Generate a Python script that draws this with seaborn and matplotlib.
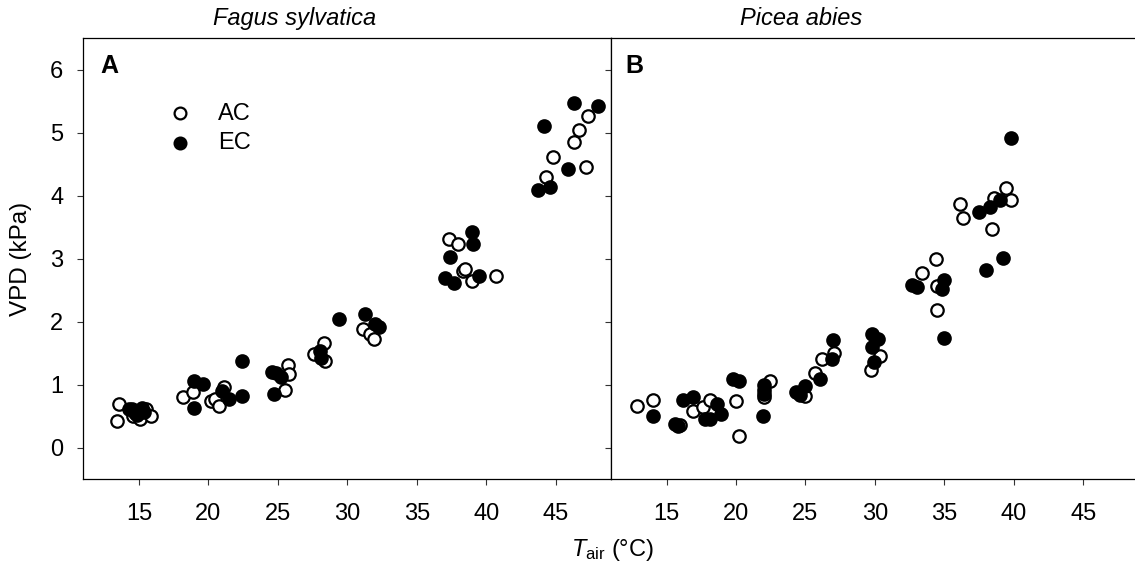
import matplotlib

matplotlib.use("Agg")
import matplotlib.pyplot as plt
import pandas as pd
import seaborn as sns

# Fagus sylvatica (panel A)
fagus_ac_t = [13.4, 13.6, 14.6, 15.1, 15.5, 15.9, 18.2, 18.9, 20.2, 20.5, 20.8, 21.1,
              25.5, 25.7, 25.8, 27.6, 28.35, 28.4, 31.1, 31.6, 31.9,
              37.3, 38.0, 38.3, 38.5, 39.0, 40.7, 44.3, 44.8, 46.3, 46.7, 47.2, 47.3]
fagus_ac_vpd = [0.42, 0.70, 0.50, 0.45, 0.61, 0.51, 0.80, 0.88, 0.74, 0.78, 0.66, 0.96,
                0.92, 1.32, 1.17, 1.49, 1.67, 1.37, 1.89, 1.81, 1.73,
                3.31, 3.23, 2.81, 2.84, 2.65, 2.72, 4.30, 4.61, 4.86, 5.05, 4.45, 5.26]
fagus_ec_t = [14.3, 14.5, 14.7, 14.9, 15.2, 15.4, 19.0, 19.0, 19.6, 21.0, 21.5, 22.45, 22.45,
              24.6, 24.9, 25.2, 24.7, 28.0, 28.1, 29.4, 31.3, 32.0, 32.25,
              37.4, 38.95, 39.05, 37.0, 37.7, 39.5, 44.15, 46.3, 48.05, 45.9, 43.7, 44.6]
fagus_ec_vpd = [0.61, 0.62, 0.55, 0.52, 0.63, 0.57, 0.63, 1.06, 1.01, 0.90, 0.77, 1.37, 0.83,
                1.21, 1.19, 1.13, 0.86, 1.53, 1.42, 2.04, 2.12, 1.97, 1.92,
                3.03, 3.43, 3.23, 2.70, 2.61, 2.73, 5.11, 5.48, 5.42, 4.43, 4.09, 4.14]

# Picea abies (panel B)
picea_ac_t = [12.9, 14.0, 16.0, 16.9, 17.6, 18.1, 20.0, 20.2, 22.45, 22.0, 22.0, 25.0,
              25.7, 26.2, 27.05, 29.7, 30.35, 33.4, 34.4, 34.5, 34.45,
              36.1, 36.3, 38.6, 38.4, 39.4, 39.8]
picea_ac_vpd = [0.67, 0.76, 0.36, 0.58, 0.65, 0.76, 0.74, 0.19, 1.06, 0.91, 0.81, 0.82,
                1.19, 1.41, 1.50, 1.24, 1.45, 2.78, 2.99, 2.57, 2.18,
                3.87, 3.65, 3.97, 3.47, 4.12, 3.93]
picea_ec_t = [14.0, 15.6, 15.8, 16.15, 16.9, 17.8, 18.1, 18.6, 18.9, 19.8, 20.2, 22.0, 22.0,
              21.97, 24.3, 24.6, 25.0, 26.05, 26.9, 27.0, 29.8, 30.2, 29.8, 29.95,
              32.7, 33.0, 35.0, 34.8, 35.0, 37.5, 38.25, 39.0, 39.2, 38.0, 39.8]
picea_ec_vpd = [0.51, 0.38, 0.35, 0.76, 0.81, 0.46, 0.45, 0.70, 0.54, 1.09, 1.06, 0.99, 0.86,
                0.51, 0.88, 0.84, 0.98, 1.09, 1.41, 1.71, 1.80, 1.73, 1.60, 1.36,
                2.58, 2.55, 2.66, 2.52, 1.75, 3.74, 3.82, 3.93, 3.01, 2.82, 4.91]

x_ticks = [15, 20, 25, 30, 35, 40, 45]
y_ticks = [0, 1, 2, 3, 4, 5, 6]
species = ["Fagus sylvatica", "Picea abies"]
panel_labels = ["A", "B"]

sns.set_style("ticks")
plt.rcParams["font.family"] = ["Liberation Sans", "DejaVu Sans"]
plt.rcParams["mathtext.fontset"] = "custom"
plt.rcParams["mathtext.rm"] = "Liberation Sans"
plt.rcParams["mathtext.it"] = "Liberation Sans:italic"
plt.rcParams["text.color"] = "black"
plt.rcParams["axes.labelcolor"] = "black"
plt.rcParams["xtick.labelcolor"] = "black"
plt.rcParams["ytick.labelcolor"] = "black"

FS = 17

fig = plt.figure(figsize=(11.35, 5.71), dpi=100)
ax_a = fig.add_axes([0.0734, 0.1606, 0.4652, 0.7723])
ax_b = fig.add_axes([0.5383, 0.1606, 0.4652, 0.7723])

panels = [
    (ax_a, fagus_ac_t, fagus_ac_vpd, fagus_ec_t, fagus_ec_vpd),
    (ax_b, picea_ac_t, picea_ac_vpd, picea_ec_t, picea_ec_vpd),
]

for i, (ax, ac_t, ac_v, ec_t, ec_v) in enumerate(panels):
    ac = pd.DataFrame({"T": ac_t, "VPD": ac_v})
    ec = pd.DataFrame({"T": ec_t, "VPD": ec_v})
    sns.scatterplot(data=ac, x="T", y="VPD", color="white", edgecolor="black",
                    linewidth=1.6, s=80, label="AC", ax=ax, zorder=3)
    sns.scatterplot(data=ec, x="T", y="VPD", color="black", edgecolor="black",
                    linewidth=1.6, s=80, label="EC", ax=ax, zorder=3)
    ax.set_xlim(11, 49)
    ax.set_ylim(-0.5, 6.5)
    ax.set_xticks(x_ticks)
    ax.set_yticks(y_ticks)
    ax.tick_params(direction="out", length=4.3, width=0.8, color="#333333",
                   labelsize=FS, pad=10)
    ax.tick_params(axis="x", pad=13)
    for side in ["left", "right", "top", "bottom"]:
        ax.spines[side].set_linewidth(0.9)
        ax.spines[side].set_color("black")
    ax.spines["right"].set_visible(i == 0)
    ax.set_xlabel("")
    ax.set_ylabel("")
    ax.text(0.032 if i == 0 else 0.028, 0.937, panel_labels[i], transform=ax.transAxes,
            fontsize=FS + 1, fontweight="bold", ha="left", va="center")
    ax.text(0.40 if i == 0 else 0.36, 1.046, species[i], transform=ax.transAxes,
            fontsize=FS, style="italic", ha="center", va="center")
    if i == 0:
        ax.legend(loc="upper left", bbox_to_anchor=(0.161, 0.854), frameon=False,
                  fontsize=FS, handlelength=1.0, handletextpad=1.1, labelspacing=0.3,
                  borderpad=0, borderaxespad=0, markerscale=0.95)
    else:
        ax.get_legend().remove()
        ax.set_yticklabels([])

ax_a.set_ylabel("VPD (kPa)", fontsize=FS + 0.5)
ax_a.yaxis.set_label_coords(-0.097, 0.5)
fig.text(0.54, 0.037, r"$T_{\mathrm{air}}$ (°C)", fontsize=FS, ha="center", va="center")

fig.savefig("out.png", dpi=100)
